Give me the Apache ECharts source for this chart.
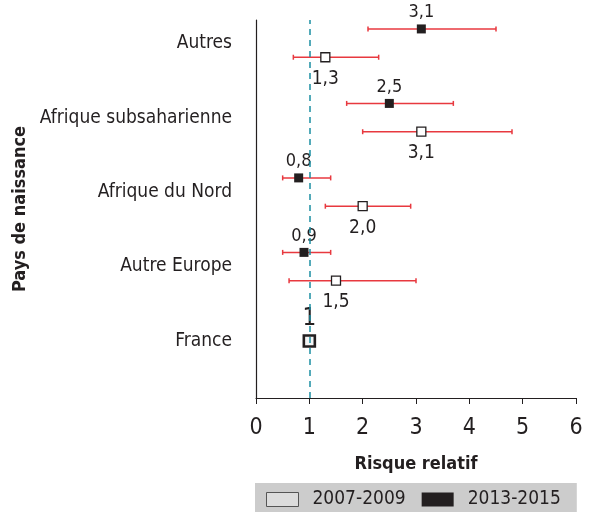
<!DOCTYPE html>
<html><head><meta charset="utf-8">
<script src="https://cdn.jsdelivr.net/npm/echarts@6/dist/echarts.min.js"></script>
<style>html,body{margin:0;padding:0;background:#fff}#c{width:595px;height:512px}</style>
</head><body><div id="c"></div>
<script>
const categories = ['France', 'Autre Europe', 'Afrique du Nord', 'Afrique subsaharienne', 'Autres'];
const seriesNames = ['2007-2009', '2013-2015'];
// 2007-2009 (open squares)
const rr0709 = [1, 1.5, 2.0, 3.1, 1.3];
const low0709 = [1, 0.62, 1.3, 2.0, 0.7];
const high0709 = [1, 3.0, 2.9, 4.8, 2.3];
// 2013-2015 (filled squares)
const rr1315 = [1, 0.9, 0.8, 2.5, 3.1];
const low1315 = [1, 0.5, 0.5, 1.7, 2.1];
const high1315 = [1, 1.4, 1.4, 3.7, 4.5];
const xTicks = [0, 1, 2, 3, 4, 5, 6];

const FONT = "'Liberation Sans Narrow', 'DejaVu Sans Condensed', 'Roboto', sans-serif";
const OFF = 0.19;
function yPos(i, s) { return i === 0 ? 0 : i + (s === 0 ? -OFF : OFF); }
function fmt(v) { return v === 1 ? '1' : v.toFixed(1).replace('.', ','); }

const errData = [];
[[low0709, high0709], [low1315, high1315]].forEach((arr, s) => {
  categories.forEach((c, i) => errData.push([arr[0][i], arr[1][i], yPos(i, s)]));
});

const pts0709 = categories.map((c, i) => ({
  value: [rr0709[i], yPos(i, 0)],
  label: i === 0 ? { show: false } : undefined,
  itemStyle: i === 0 ? { borderWidth: 2.6, color: '#f4f4f4' } : undefined,
  symbolSize: i === 0 ? 11 : 9
}));
const pts1315 = categories.map((c, i) => ({
  value: [rr1315[i], yPos(i, 1)],
  label: i === 0 ? { show: true, fontSize: 24, distance: 6 } : undefined
}));

const chart = echarts.init(document.getElementById('c'));
chart.setOption({
  animation: false,
  textStyle: { fontFamily: FONT },
  grid: { left: 256, top: 20, right: 19, bottom: 114 },
  xAxis: {
    type: 'value', min: 0, max: 6, interval: 1,
    name: 'Risque relatif', nameLocation: 'middle', nameGap: 57,
    nameTextStyle: { fontSize: 18, fontWeight: 'bold', color: '#231f20', fontFamily: FONT },
    axisLine: { show: true, onZero: false, lineStyle: { color: '#231f20', width: 1.2 } },
    axisTick: { show: true, length: 6, lineStyle: { color: '#231f20' } },
    axisLabel: { fontSize: 23, color: '#231f20', margin: 19, fontFamily: FONT },
    splitLine: { show: false }
  },
  yAxis: {
    type: 'value', min: -0.765, max: 4.31,
    name: 'Pays de naissance', nameLocation: 'middle', nameGap: 222, nameRotate: 90,
    nameTextStyle: { fontSize: 18, fontWeight: 'bold', color: '#231f20', fontFamily: FONT },
    axisLine: { show: true, onZero: false, lineStyle: { color: '#231f20', width: 1.2 } },
    axisTick: { show: false },
    splitLine: { show: false },
    axisLabel: {
      customValues: [0, 1, 2, 3, 4],
      formatter: v => categories[Math.round(v)],
      fontSize: 19, color: '#231f20', margin: 24, fontFamily: FONT
    }
  },
  legend: {
    left: 255, top: 483, width: 330,
    data: [
      { name: seriesNames[0], icon: 'rect', itemStyle: { color: '#dcdcdc', borderColor: '#555', borderWidth: 1 } },
      { name: seriesNames[1], icon: 'rect', itemStyle: { color: '#231f20' } }
    ],
    backgroundColor: '#cccccc',
    padding: [7, 16, 6, 11],
    itemWidth: 32, itemHeight: 14, itemGap: 16,
    textStyle: { fontSize: 19, color: '#231f20', fontFamily: FONT, padding: [0, 0, 0, 9] }
  },
  series: [
    {
      type: 'custom', silent: true, z: 2,
      data: errData,
      renderItem: function (params, api) {
        const a = api.coord([api.value(0), api.value(2)]);
        const b = api.coord([api.value(1), api.value(2)]);
        const st = { stroke: '#e8393f', lineWidth: 1.5 };
        return { type: 'group', children: [
          { type: 'line', shape: { x1: a[0], y1: a[1], x2: b[0], y2: b[1] }, style: st },
          { type: 'line', shape: { x1: a[0], y1: a[1] - 2.5, x2: a[0], y2: a[1] + 2.5 }, style: st },
          { type: 'line', shape: { x1: b[0], y1: b[1] - 2.5, x2: b[0], y2: b[1] + 2.5 }, style: st }
        ] };
      },
      markLine: {
        silent: true, symbol: 'none', label: { show: false },
        lineStyle: { color: '#1b8fa3', type: [6, 5], width: 1.5 },
        data: [{ xAxis: 1 }]
      }
    },
    {
      name: seriesNames[1], type: 'scatter', z: 3,
      symbol: 'rect', symbolSize: 9,
      itemStyle: { color: '#231f20', opacity: 1 },
      label: { show: true, position: 'top', distance: 3, fontSize: 18, color: '#231f20', fontFamily: FONT,
        formatter: p => fmt(p.value[0]) },
      data: pts1315
    },
    {
      name: seriesNames[0], type: 'scatter', z: 4,
      symbol: 'rect', symbolSize: 9,
      itemStyle: { color: '#ffffff', borderColor: '#231f20', borderWidth: 1.3, opacity: 1 },
      label: { show: true, position: 'bottom', distance: 7, fontSize: 19, color: '#231f20', fontFamily: FONT,
        formatter: p => fmt(p.value[0]) },
      data: pts0709
    }
  ]
});
</script>
</body></html>
